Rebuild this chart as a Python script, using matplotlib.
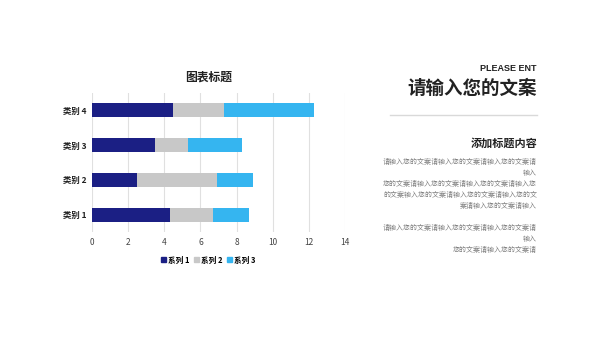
import matplotlib
matplotlib.use("Agg")
import matplotlib.pyplot as plt
import numpy as np
from matplotlib.patches import Patch

plt.rcParams['font.family'] = ['Noto Sans CJK SC', 'DejaVu Sans']

categories = ["类别 1", "类别 2", "类别 3", "类别 4"]
series_names = ["系列 1", "系列 2", "系列 3"]
s1 = [4.3, 2.5, 3.5, 4.5]
s2 = [2.4, 4.4, 1.8, 2.8]
s3 = [2.0, 2.0, 3.0, 5.0]
colors = ["#1b1f84", "#c8c8c8", "#35b5f0"]
xticks = [0, 2, 4, 6, 8, 10, 12, 14]

fig = plt.figure(figsize=(6, 3.38), dpi=100)
ax = fig.add_axes([0.1533, 0.3136, 0.4217, 0.4112])

y = np.arange(len(categories))
left = np.zeros(len(categories))
for vals, c in zip([s1, s2, s3], colors):
    ax.barh(y, vals, left=left, height=0.4, color=c, zorder=3)
    left += np.array(vals)

ax.set_xlim(0, 14)
ax.set_ylim(-0.5, 3.5)
ax.set_xticks(xticks)
ax.set_xticklabels([str(t) for t in xticks], fontsize=6, color="#444444")
ax.set_yticks(y)
ax.set_yticklabels(categories, fontsize=6, fontweight="bold", color="#222222")
ax.tick_params(length=0, pad=4)
ax.grid(axis="x", color="#e0e0e0", linewidth=0.8, zorder=0)
for s in ax.spines.values():
    s.set_visible(False)

fig.text(0.347, 0.772, "图表标题", fontsize=8.5, fontweight="bold", ha="center", va="center", color="#222222")

handles = [Patch(color=c) for c in colors]
fig.legend(handles, series_names, loc="center", bbox_to_anchor=(0.347, 0.231), ncol=3,
           frameon=False, prop={"size": 5.5, "weight": "bold"}, handlelength=0.7, handleheight=0.7,
           handletextpad=0.3, columnspacing=0.5)

# right side text
rx = 0.895
fig.text(rx, 0.796, "PLEASE ENT", fontsize=6.5, fontweight="bold", ha="right", va="center",
         color="#222222", family=["Liberation Sans", "DejaVu Sans"])
fig.text(rx, 0.738, "请输入您的文案", fontsize=13.3, fontweight="bold", ha="right", va="center", color="#222222")
fig.add_artist(plt.Line2D([0.65, rx], [0.66, 0.66], color="#d9d9d9", linewidth=1.0))
fig.text(rx, 0.577, "添加标题内容", fontsize=8, fontweight="bold", ha="right", va="center", color="#222222")

body = ["请输入您的文案请输入您的文案请输入您的文案请",
        "输入",
        "您的文案请输入您的文案请输入您的文案请输入您",
        "的文案输入您的文案请输入您的文案请输入您的文",
        "案请输入您的文案请输入",
        "",
        "请输入您的文案请输入您的文案请输入您的文案请",
        "输入",
        "您的文案请输入您的文案请"]
ys_px = [162, 173, 184, 195, 206, None, 228, 239, 250]
for line, yp in zip(body, ys_px):
    if yp is None:
        continue
    fig.text(rx, 1 - yp / 338, line, fontsize=5, ha="right", va="center", color="#7f7f7f")

fig.savefig("out.png", dpi=100, facecolor="white")
